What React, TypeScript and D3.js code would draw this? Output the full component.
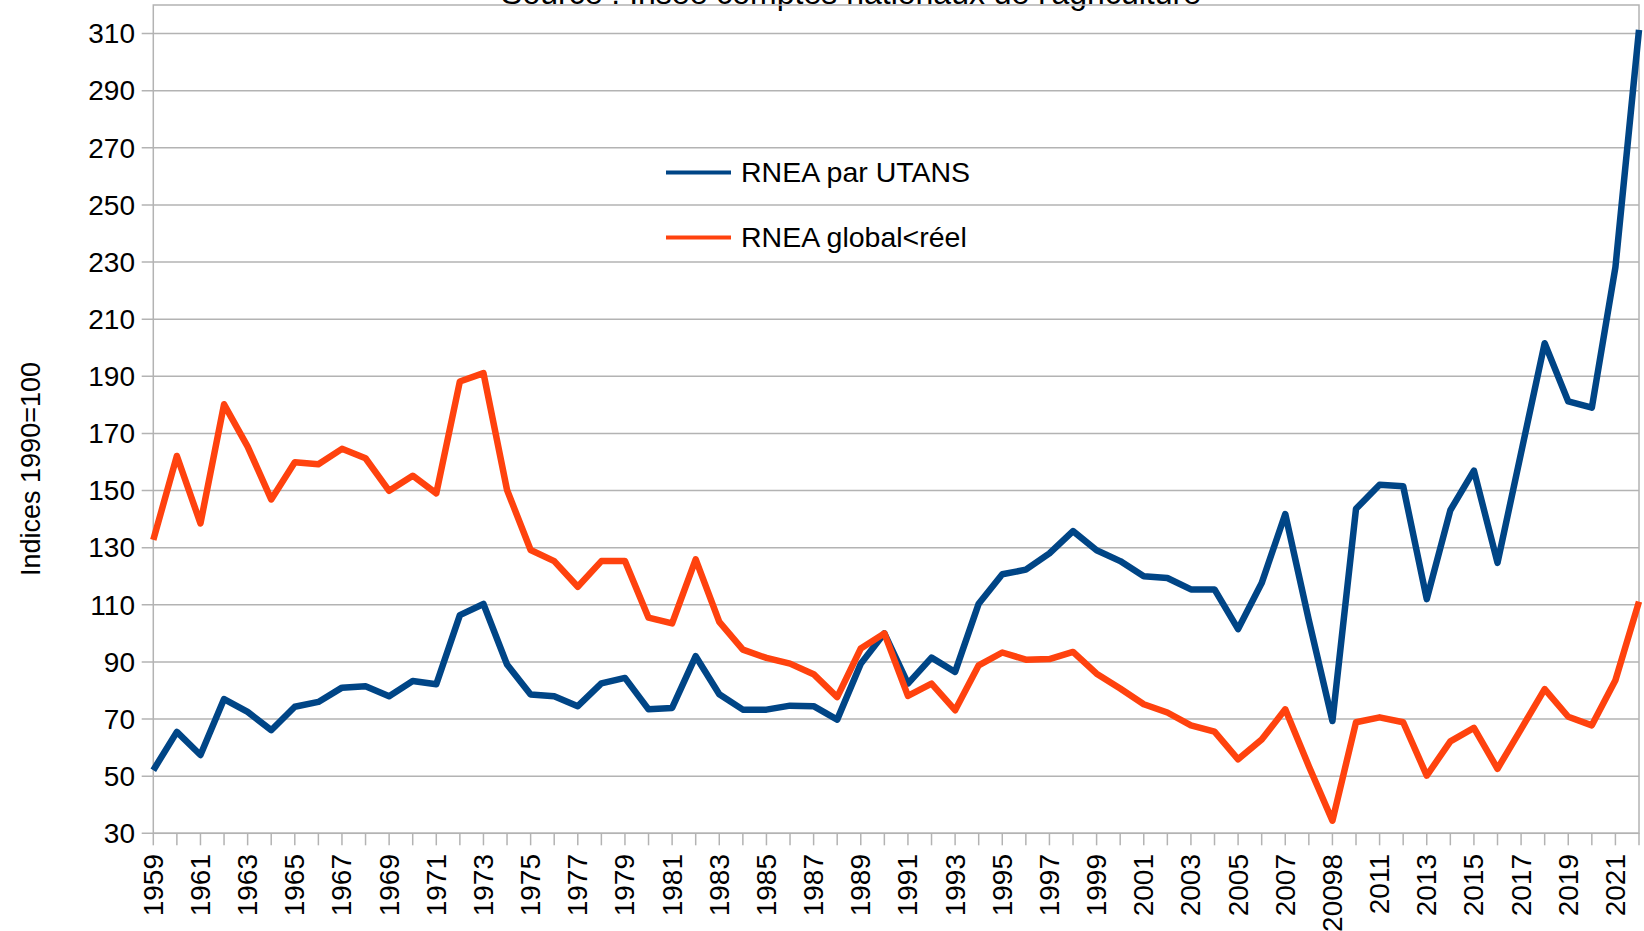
import React from "react";
import { scalePoint, scaleLinear, line } from "d3";

// categories as written in the source sheet (2009 is labelled "20098" there)
const categories = [
  "1959", "1960", "1961", "1962", "1963", "1964", "1965", "1966", "1967", "1968",
  "1969", "1970", "1971", "1972", "1973", "1974", "1975", "1976", "1977", "1978",
  "1979", "1980", "1981", "1982", "1983", "1984", "1985", "1986", "1987", "1988",
  "1989", "1990", "1991", "1992", "1993", "1994", "1995", "1996", "1997", "1998",
  "1999", "2000", "2001", "2002", "2003", "2004", "2005", "2006", "2007", "2008",
  "20098", "2010", "2011", "2012", "2013", "2014", "2015", "2016", "2017", "2018",
  "2019", "2020", "2021", "2022",
];

const rneaUtans = [
  52.1, 65.5, 57.4, 77, 72.5, 66.1, 74.3, 76, 81, 81.5,
  78, 83.3, 82.2, 106.4, 110.3, 89.1, 78.6, 78, 74.5, 82.5,
  84.4, 73.4, 73.9, 92, 78.7, 73.3, 73.3, 74.7, 74.5, 69.8,
  89.4, 100, 82.4, 91.5, 86.5, 110.4, 120.7, 122.3, 128, 135.8,
  129.1, 125.3, 120, 119.4, 115.4, 115.4, 101.5, 117.6, 141.8, 104.6,
  69.3, 143.6, 152, 151.5, 112, 143.1, 157, 124.7, 163.2, 201.6,
  181.2, 179, 228.2, 311.3,
];

const rneaGlobal = [
  132.7, 162.1, 138.5, 180.2, 165.4, 146.9, 159.9, 159.2, 164.6, 161.3,
  149.9, 155.2, 149, 188.2, 191.1, 150.2, 129.2, 125.3, 116.3, 125.3,
  125.3, 105.5, 103.5, 125.9, 104, 94.3, 91.4, 89.4, 85.7, 77.7,
  94.7, 100, 78.1, 82.4, 73.1, 88.8, 93.3, 90.8, 91, 93.5,
  85.9, 80.7, 75.2, 72.3, 67.8, 65.6, 55.9, 62.8, 73.4, 53.5,
  34.4, 68.9, 70.6, 68.9, 50.2, 62.2, 66.9, 52.6, 66.5, 80.5,
  70.8, 67.8, 83.6, 111.1,
];

const yTicks = [30, 50, 70, 90, 110, 130, 150, 170, 190, 210, 230, 250, 270, 290, 310];

const series = [
  { name: "RNEA par UTANS", values: rneaUtans, color: "#004586" },
  { name: "RNEA global<réel", values: rneaGlobal, color: "#ff420e" },
];

const W = 1644;
const H = 931;
const left = 153.3;
const right = 1639;
const top = 5;
const bottom = 833.3;
const font = "'Liberation Sans', Arial, sans-serif";
const grid = "#b3b3b3";

export default function App() {
  const x = scalePoint<string>().domain(categories).range([left, right]);
  const y = scaleLinear().domain([30, 320]).range([bottom, top]);

  const path = line<number>()
    .x((d, i) => x(categories[i]) as number)
    .y((d) => y(d));

  return (
    <svg
      width={W}
      height={H}
      style={{ position: "absolute", left: 0, top: 0, background: "#fff" }}
      fontFamily={font}
    >
      {/* title, cut by the top edge like in the original export */}
      <text x={851} y={4} fontSize={32} textAnchor="middle" fill="#000">
        Source : Insee comptes nationaux de l'agriculture
      </text>

      {/* gridlines + y ticks */}
      {yTicks.map((t) => (
        <g key={t}>
          <line x1={left - 11.6} x2={right} y1={y(t)} y2={y(t)} stroke={grid} strokeWidth={1.5} />
          <text x={135} y={y(t)} dy="0.35em" fontSize={28} textAnchor="end" fill="#000">
            {t}
          </text>
        </g>
      ))}

      {/* plot frame */}
      <rect x={left} y={top} width={right - left} height={bottom - top} fill="none" stroke={grid} strokeWidth={1.5} />

      {/* x ticks and labels */}
      {categories.map((c, i) => (
        <g key={c}>
          <line x1={x(c)} x2={x(c)} y1={bottom} y2={bottom + 12} stroke={grid} strokeWidth={1.5} />
          {i % 2 === 0 && (
            <text
              transform={`translate(${x(c)},854) rotate(-90)`}
              fontSize={28}
              textAnchor="end"
              dominantBaseline="central"
              fill="#000"
            >
              {c}
            </text>
          )}
        </g>
      ))}

      {/* y axis title */}
      <text
        transform="translate(39.5,469) rotate(-90)"
        fontSize={27}
        textAnchor="middle"
        fill="#000"
      >
        Indices 1990=100
      </text>

      {/* series */}
      {series.map((s) => (
        <path
          key={s.name}
          d={path(s.values) ?? ""}
          fill="none"
          stroke={s.color}
          strokeWidth={6.5}
          strokeLinejoin="round"
        />
      ))}

      {/* legend */}
      {series.map((s, i) => (
        <g key={s.name} transform={`translate(0,${172.5 + i * 65})`}>
          <line x1={666} x2={731} y1={0} y2={0} stroke={s.color} strokeWidth={4} />
          <text x={741} y={0} dy="0.35em" fontSize={28.5} fill="#000">
            {s.name}
          </text>
        </g>
      ))}
    </svg>
  );
}
